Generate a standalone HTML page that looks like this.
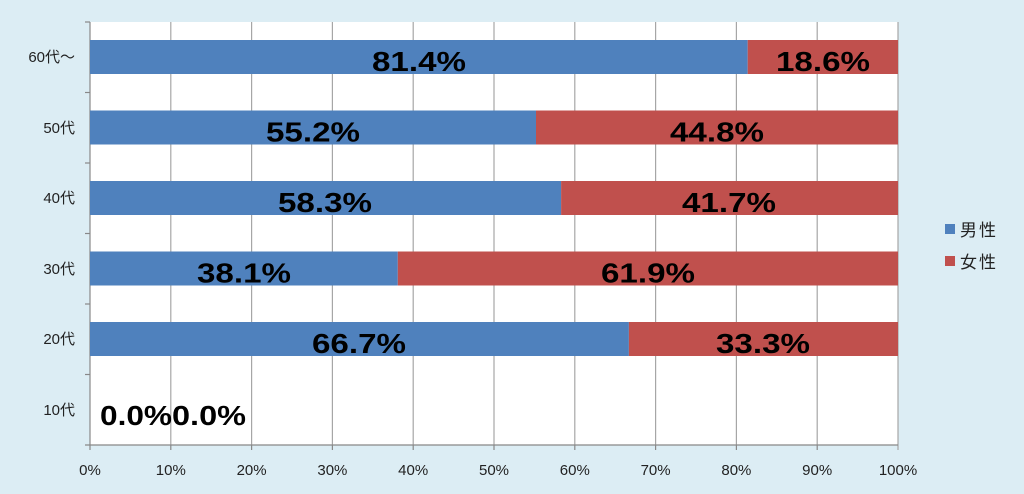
<!DOCTYPE html>
<html><head><meta charset="utf-8"><style>
body{margin:0;background:#dcedf4;}
svg{display:block;font-family:"Liberation Sans","Noto Sans CJK JP",sans-serif;}
</style></head><body>
<svg width="1024" height="494" viewBox="0 0 1024 494">
<rect width="1024" height="494" fill="#dcedf4"/>
<rect x="90" y="22" width="808" height="423" fill="#fff"/>
<g stroke="#a6a6a6" stroke-width="1.2">
<line x1="170.8" y1="22" x2="170.8" y2="445"/><line x1="251.6" y1="22" x2="251.6" y2="445"/>
<line x1="332.4" y1="22" x2="332.4" y2="445"/><line x1="413.2" y1="22" x2="413.2" y2="445"/>
<line x1="494" y1="22" x2="494" y2="445"/><line x1="574.8" y1="22" x2="574.8" y2="445"/>
<line x1="655.6" y1="22" x2="655.6" y2="445"/><line x1="736.4" y1="22" x2="736.4" y2="445"/>
<line x1="817.2" y1="22" x2="817.2" y2="445"/><line x1="898" y1="22" x2="898" y2="450"/>
</g>
<g stroke="#888" stroke-width="1.2">
<line x1="90" y1="22" x2="90" y2="450"/><line x1="85" y1="445" x2="898" y2="445"/>
<line x1="85" y1="22" x2="90" y2="22"/><line x1="85" y1="92.5" x2="90" y2="92.5"/>
<line x1="85" y1="163" x2="90" y2="163"/><line x1="85" y1="233.5" x2="90" y2="233.5"/>
<line x1="85" y1="304" x2="90" y2="304"/><line x1="85" y1="374.5" x2="90" y2="374.5"/>
<line x1="170.8" y1="445" x2="170.8" y2="450"/><line x1="251.6" y1="445" x2="251.6" y2="450"/>
<line x1="332.4" y1="445" x2="332.4" y2="450"/><line x1="413.2" y1="445" x2="413.2" y2="450"/>
<line x1="494" y1="445" x2="494" y2="450"/><line x1="574.8" y1="445" x2="574.8" y2="450"/>
<line x1="655.6" y1="445" x2="655.6" y2="450"/><line x1="736.4" y1="445" x2="736.4" y2="450"/>
<line x1="817.2" y1="445" x2="817.2" y2="450"/>
</g>
<g>
<rect x="90" y="40" width="657.7" height="34" fill="#4f81bd"/><rect x="747.7" y="40" width="150.3" height="34" fill="#c0504d"/>
<rect x="90" y="110.5" width="446" height="34" fill="#4f81bd"/><rect x="536" y="110.5" width="362" height="34" fill="#c0504d"/>
<rect x="90" y="181" width="471.1" height="34" fill="#4f81bd"/><rect x="561.1" y="181" width="336.9" height="34" fill="#c0504d"/>
<rect x="90" y="251.5" width="307.8" height="34" fill="#4f81bd"/><rect x="397.8" y="251.5" width="500.2" height="34" fill="#c0504d"/>
<rect x="90" y="322" width="538.9" height="34" fill="#4f81bd"/><rect x="628.9" y="322" width="269.1" height="34" fill="#c0504d"/>
</g>
<g font-size="28" font-weight="bold" fill="#000" text-anchor="middle">
<text x="419" y="71" textLength="94" lengthAdjust="spacingAndGlyphs">81.4%</text><text x="823" y="71" textLength="94" lengthAdjust="spacingAndGlyphs">18.6%</text>
<text x="313" y="141.5" textLength="94" lengthAdjust="spacingAndGlyphs">55.2%</text><text x="717" y="141.5" textLength="94" lengthAdjust="spacingAndGlyphs">44.8%</text>
<text x="325" y="212" textLength="94" lengthAdjust="spacingAndGlyphs">58.3%</text><text x="729" y="212" textLength="94" lengthAdjust="spacingAndGlyphs">41.7%</text>
<text x="244" y="282.5" textLength="94" lengthAdjust="spacingAndGlyphs">38.1%</text><text x="648" y="282.5" textLength="94" lengthAdjust="spacingAndGlyphs">61.9%</text>
<text x="359" y="353" textLength="94" lengthAdjust="spacingAndGlyphs">66.7%</text><text x="763" y="353" textLength="94" lengthAdjust="spacingAndGlyphs">33.3%</text>
<text x="136" y="425" textLength="72" lengthAdjust="spacingAndGlyphs">0.0%</text><text x="209" y="425" textLength="74" lengthAdjust="spacingAndGlyphs">0.0%</text>
</g>
<g font-size="15" fill="#222" text-anchor="end">
<text x="75" y="62">60代～</text><text x="75" y="133">50代</text><text x="75" y="203">40代</text>
<text x="75" y="274">30代</text><text x="75" y="344">20代</text><text x="75" y="415">10代</text>
</g>
<g font-size="15" fill="#222" text-anchor="middle">
<text x="90" y="475">0%</text><text x="170.8" y="475">10%</text><text x="251.6" y="475">20%</text>
<text x="332.4" y="475">30%</text><text x="413.2" y="475">40%</text><text x="494" y="475">50%</text>
<text x="574.8" y="475">60%</text><text x="655.6" y="475">70%</text><text x="736.4" y="475">80%</text>
<text x="817.2" y="475">90%</text><text x="898" y="475">100%</text>
</g>
<rect x="945" y="224" width="10" height="10" fill="#4f81bd"/>
<rect x="945" y="256" width="10" height="10" fill="#c0504d"/>
<g font-size="17" fill="#222" letter-spacing="2">
<text x="960" y="236">男性</text><text x="960" y="268">女性</text>
</g>
</svg>
</body></html>
